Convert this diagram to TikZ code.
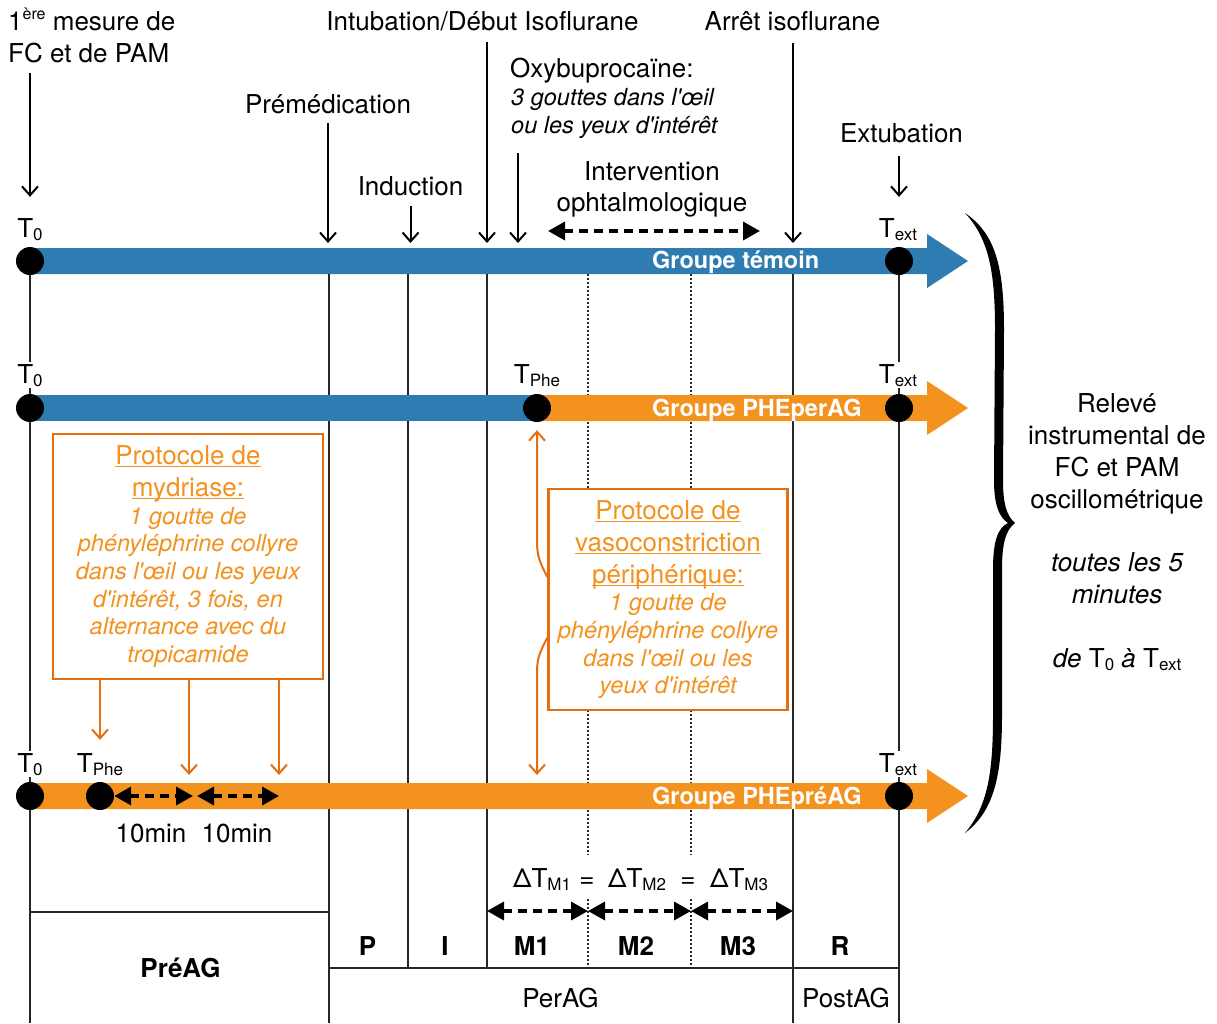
\documentclass[tikz,border=0pt]{standalone}
\usepackage{fontspec}
\setmainfont{TeX Gyre Heros}
\usetikzlibrary{arrows.meta,calc}
\definecolor{bblue}{RGB}{46,124,178}
\definecolor{borange}{RGB}{243,146,30}
\definecolor{dorange}{RGB}{228,110,16}
\newcommand{\sbs}[1]{\raisebox{-0.22ex}{\fontsize{17}{17}\selectfont #1}}
\newcommand{\sps}[1]{\raisebox{0.8ex}{\fontsize{16}{16}\selectfont #1}}
\newcommand{\uln}[1]{\leavevmode\setbox0\hbox{#1}\rlap{\rule[-2.9pt]{\wd0}{1.3pt}}\box0}
\newcommand{\apo}{\textquotesingle}
\newcommand{\fixsp}{\spaceskip=\fontdimen2\font\relax\xspaceskip=\fontdimen2\font\relax}
\begin{document}
\begin{tikzpicture}[x=1pt,y=-1pt,
  txt/.style={font=\fontsize{26}{32}\selectfont, inner sep=0pt, anchor=base},
  itx/.style={font=\fontsize{23.5}{28}\selectfont\itshape, inner sep=0pt, anchor=base west},
  bld/.style={font=\fontsize{26}{32}\selectfont\bfseries, inner sep=0pt, anchor=base},
  grp/.style={font=\fontsize{23.5}{28}\selectfont\bfseries, text=white, inner sep=0pt, anchor=base west},
  tlab/.style={font=\fontsize{26}{32}\selectfont, anchor=base, fill=white, inner xsep=1pt, inner ysep=2pt},
  vline/.style={line width=1.3pt, black!85},
  dotline/.style={line width=1.2pt, black!85, dash pattern=on 1.5pt off 2.5pt},
  darr/.style={line width=2pt, -{Straight Barb[length=9pt,width=16pt]}},
  dsh/.style={line width=3.5pt, dash pattern=on 9pt off 6pt, {Triangle[length=17pt,width=18pt]}-{Triangle[length=17pt,width=18pt]}},
  oarr/.style={draw=dorange, line width=2pt, -{Straight Barb[length=9pt,width=16pt]}},
  tdot/.style={circle, fill=black, minimum size=28pt, inner sep=0pt},
  pbox/.style={draw=dorange, line width=2.2pt, fill=white, text=borange, align=center, inner sep=4pt,
     font=\fontsize{23.5}{27.7}\selectfont},
]
\fill[white] (0,0) rectangle (1217,1023);
\useasboundingbox (0,0) rectangle (1217,1023);

% ---- coordinates
\coordinate (r1top) at (0,248);
\coordinate (r3top) at (0,783);
\coordinate (vA) at (30,261);
\coordinate (vP) at (329,261);
\coordinate (vI) at (408,261);
\coordinate (vM1) at (487,261);
\coordinate (vM2) at (588,261);
\coordinate (vM3) at (691,261);
\coordinate (vR) at (793,261);
\coordinate (vE) at (899,261);

% ---- vertical and table lines
\draw[vline] (vA) -- (30,1023);
\draw[vline] (vP) -- (329,1023);
\draw[vline] (vI) -- (408,968);
\draw[vline] (vM1) -- (487,968);
\draw[dotline] (588,274) -- (588,855);
\draw[dotline] (588,899) -- (588,968);
\draw[dotline] (691,274) -- (691,855);
\draw[dotline] (691,899) -- (691,968);
\draw[vline] (vR) -- (793,1023);
\draw[vline] (vE) -- (899,1023);
\draw[vline] (30,912) -- (329,912);
\draw[vline] (329,968) -- (899,968);

% ---- bars
\fill[bblue] (30,248) -- (927,248) -- (927,234) -- (968,261) -- (927,288) -- (927,274) -- (30,274) -- cycle;
\fill[bblue] (30,395) rectangle (537,421);
\fill[borange] (537,395) -- (927,395) -- (927,381) -- (968,408) -- (927,435) -- (927,421) -- (537,421) -- cycle;
\fill[borange] (30,783) -- (927,783) -- (927,769) -- (968,796) -- (927,823) -- (927,809) -- (30,809) -- cycle;

% ---- dots
\node[tdot] (d1a) at (30,261) {};
\node[tdot] (d1e) at (899,261) {};
\node[tdot] (d2a) at (30,408) {};
\node[tdot] (d2p) at (537,408) {};
\node[tdot] (d2e) at (899,408) {};
\node[tdot] (d3a) at (30,796) {};
\node[tdot] (d3p) at (100,796) {};
\node[tdot] (d3e) at (899,796) {};

% ---- group labels
\node[grp] (g1) at (652,268) {Groupe témoin};
\node[grp] (g2) at (652,416) {Groupe PHEperAG};
\node[grp] (g3) at (652,804) {Groupe PHEpréAG};

% ---- time labels
\node[tlab] (t1a) at (30,237) {T\sbs{0}};
\node[tlab] (t1e) at (898,237) {T\sbs{ext}};
\node[tlab] (t2a) at (30,383) {T\sbs{0}};
\node[tlab] (t2p) at (537,383) {T\sbs{Phe}};
\node[tlab] (t2e) at (898,383) {T\sbs{ext}};
\node[tlab] (t3a) at (30,772) {T\sbs{0}};
\node[tlab] (t3p) at (100,772) {T\sbs{Phe}};
\node[tlab] (t3e) at (898,772) {T\sbs{ext}};

% ---- top labels
\node[txt, anchor=base west] (m1) at (8,30) {1\sps{ère} mesure de};
\node[txt, anchor=base west] (m2) at (8,62) {FC et de PAM};
\node[txt] (lPre) at (328,113) {Prémédication};
\node[txt] (lInd) at (410.5,195) {Induction};
\node[txt] (lInt) at (482.5,30) {Intubation/Début Isoflurane};
\node[txt, anchor=base west] (lOx1) at (510,77) {Oxybuprocaïne:};
\node[itx] (lOx2) at (511,105) {3 gouttes dans l\apo œil};
\node[itx] (lOx3) at (511,133) {ou les yeux d\apo intérêt};
\node[txt] (lIv1) at (652,180) {Intervention};
\node[txt] (lIv2) at (652,211) {ophtalmologique};
\node[txt] (lArr) at (792.5,30) {Arrêt isoflurane};
\node[txt] (lExt) at (901.5,142) {Extubation};

\coordinate (aOx) at (518,248);
\coordinate (iv1) at (548,231);
\coordinate (iv2) at (760,231);

% ---- top arrows
\draw[darr, shorten <=10pt, shorten >=19pt] (m2.south -| d1a) -- (t1a.north -| d1a);
\draw[darr, shorten <=9pt, shorten >=5pt] (lPre.south) -- (lPre.south |- r1top);
\draw[darr, shorten <=10pt, shorten >=5pt] (lInd.south) -- (lInd.south |- r1top);
\draw[darr, shorten <=11pt, shorten >=5pt] (lInt.south -| vM1) -- (vM1 |- r1top);
\draw[darr, shorten <=15pt, shorten >=5pt] (aOx |- lOx3.south) -- (aOx);
\draw[darr, shorten <=12pt, shorten >=5pt] (lArr.south -| vR) -- (vR |- r1top);
\draw[darr, shorten <=13pt, shorten >=19pt] (lExt.south -| d1e) -- (t1e.north -| d1e);
\draw[dsh] (iv1) -- (iv2);

% ---- protocol boxes
\node[pbox, text width=262pt, minimum height=245pt] (bx1) at (188,556.5)
 {{\fontsize{26}{32}\selectfont\fixsp \uln{Protocole de}\\ \uln{mydriase:}\par}
  {\fontsize{23.5}{27.7}\selectfont\itshape\fixsp 1 goutte de\\ phényléphrine collyre\\ dans l\apo œil ou les yeux\\ d\apo intérêt, 3 fois, en\\ alternance avec du\\ tropicamide\par}};
\node[pbox, text width=231pt, minimum height=221pt] (bx2) at (668,599.5)
 {{\fontsize{26}{32}\selectfont\fixsp \uln{Protocole de}\\ \uln{vasoconstriction}\\ \uln{périphérique:}\par}
  {\fontsize{23.5}{27.7}\selectfont\itshape\fixsp 1 goutte de\\ phényléphrine collyre\\ dans l\apo œil ou les\\ yeux d\apo intérêt\par}};

\coordinate (k1) at (189,783);
\coordinate (k2) at (279,783);
\coordinate (k3) at (537,783);
\draw[oarr, shorten >=11pt] (bx1.south -| d3p) -- (t3p.north -| d3p);
\draw[oarr, shorten >=8pt] (bx1.south -| k1) -- (k1);
\draw[oarr, shorten >=8pt] (bx1.south -| k2) -- (k2);
\draw[oarr, shorten >=8pt] ([yshift=22.5pt]bx2.west) .. controls (541,565) and (537,557) .. (537,542) -- (d2p.south);
\draw[oarr, shorten >=8pt] ([yshift=-38pt]bx2.west) .. controls (541,650) and (537,657) .. (537,672) -- (k3);

% ---- row 3 intervals
\coordinate (q1) at (193,796);
\coordinate (q2) at (197,796);
\coordinate (q3) at (279,796);
\draw[dsh] (d3p.east) -- (q1);
\draw[dsh] (q2) -- (q3);
\node[txt] (min1) at (151,842) {10min};
\node[txt] (min2) at (237,842) {10min};

% ---- Delta T
\node[txt] (dt1) at (542,887) {ΔT\sbs{M1}};
\node[txt] (eq1) at (587,887) {=};
\node[txt] (dt2) at (637,887) {ΔT\sbs{M2}};
\node[txt] (eq2) at (688,887) {=};
\node[txt] (dt3) at (739,887) {ΔT\sbs{M3}};
\coordinate (e1) at (487,911);
\coordinate (e2) at (588,911);
\coordinate (e3) at (691,911);
\coordinate (e4) at (793,911);
\draw[dsh] (e1) -- (e2);
\draw[dsh] (e2) -- (e3);
\draw[dsh] (e3) -- (e4);

% ---- table labels
\node[bld] (cP) at (367.5,955) {P};
\node[bld] (cI) at (445,955) {I};
\node[bld] (cM1) at (532,955) {M1};
\node[bld] (cM2) at (636,955) {M2};
\node[bld] (cM3) at (738,955) {M3};
\node[bld] (cR) at (840,955) {R};
\node[bld] (cPre) at (180.5,977) {PréAG};
\node[txt] (cPer) at (560.5,1007) {PerAG};
\node[txt] (cPost) at (846,1007) {PostAG};

% ---- brace
\fill[black] (965,213) .. controls (996,234) and (1004,268) .. (1004,330) -- (1003,480)
  .. controls (1003,505) and (1007,516) .. (1015,523)
  .. controls (1006,530) and (1002,542) .. (1002,570) -- (1002,715)
  .. controls (1002,776) and (994,811) .. (965,833)
  .. controls (988,806) and (993,772) .. (993,715) -- (993,570)
  .. controls (993,540) and (998,528) .. (1008,523)
  .. controls (999,517) and (994,505) .. (994,480) -- (995,330)
  .. controls (995,275) and (990,240) .. (965,213) -- cycle;

% ---- right text
\node[txt] (rt1) at (1117,412) {Relevé};
\node[txt] (rt2) at (1117,444) {instrumental de};
\node[txt] (rt3) at (1117,476) {FC et PAM};
\node[txt] (rt4) at (1117,508) {oscillométrique};
\node[txt, font=\fontsize{26}{32}\selectfont\itshape] (rt5) at (1117,571) {toutes les 5};
\node[txt, font=\fontsize{26}{32}\selectfont\itshape] (rt6) at (1117,603) {minutes};
\node[txt] (rt7) at (1117,667) {\textit{de} T\sbs{0} \textit{à} T\sbs{ext}};
\end{tikzpicture}
\end{document}
